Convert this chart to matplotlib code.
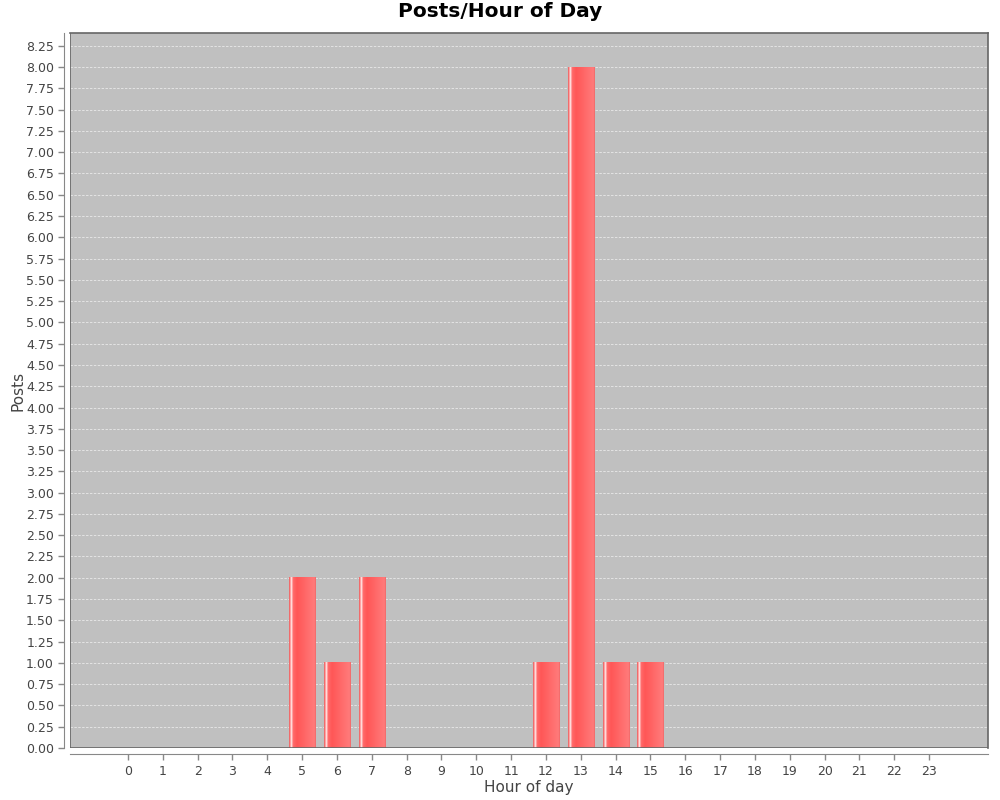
import numpy as np
import matplotlib
matplotlib.use("Agg")
import matplotlib.pyplot as plt
from matplotlib.colors import LinearSegmentedColormap

hours = list(range(24))
posts = [0, 0, 0, 0, 0, 2, 1, 2, 0, 0, 0, 0, 1, 8, 1, 1, 0, 0, 0, 0, 0, 0, 0, 0]

fig = plt.figure(figsize=(10, 8), dpi=100)
ax = fig.add_axes([0.07, 0.065, 0.918, 0.89375])
ax.set_facecolor("#C0C0C0")

bars = ax.bar(hours, posts, width=0.75, zorder=3, linewidth=0)

grad = LinearSegmentedColormap.from_list("g", [
    (0.00, (0.90, 0.36, 0.36)),
    (0.04, (1.00, 0.50, 0.50)),
    (0.09, (1.00, 0.97, 0.97)),
    (0.15, (1.00, 0.42, 0.42)),
    (0.30, (1.00, 0.34, 0.34)),
    (0.85, (1.00, 0.46, 0.46)),
    (0.95, (1.00, 0.48, 0.48)),
    (1.00, (0.93, 0.40, 0.40)),
])
img = np.linspace(0, 1, 256).reshape(1, -1)
for p in bars:
    h = p.get_height()
    if h <= 0:
        continue
    x0 = p.get_x()
    w = p.get_width()
    ax.imshow(img, cmap=grad, aspect="auto", extent=(x0, x0 + w, 0, h),
              zorder=3, interpolation="bilinear")
    p.set_visible(False)

ax.set_xlim(-1.665, 24.69)
ax.set_ylim(0, 8.4)

ax.set_xticks(hours)
ax.set_xticklabels([str(h) for h in hours])
yt = np.arange(0, 8.26, 0.25)
ax.set_yticks(yt)
ax.set_yticklabels([f"{v:.2f}" for v in yt])

ax.yaxis.grid(True, color="#E4E4E4", linestyle=(0, (2.5, 1.5)), linewidth=0.7, zorder=1)
ax.set_axisbelow(True)

for s in ["top", "right"]:
    ax.spines[s].set_color("#666666")
    ax.spines[s].set_linewidth(1.2)
ax.spines["left"].set_position(("outward", 4))
ax.spines["bottom"].set_position(("outward", 4))
ax.spines["left"].set_color("#888888")
ax.spines["bottom"].set_color("#888888")
ax.axvline(-1.665, color="#666666", linewidth=1.2, zorder=5)
ax.axhline(0, color="#666666", linewidth=1.2, zorder=5)

ax.tick_params(axis="both", colors="#888888", labelcolor="#444444",
               labelsize=9, length=4, width=1)
ax.tick_params(axis="x", pad=4)

ax.set_xlabel("Hour of day", fontsize=11, color="#444444")
ax.set_ylabel("Posts", fontsize=11, color="#444444")
ax.xaxis.set_label_coords(0.5, -0.045)
ax.yaxis.set_label_coords(-0.049, 0.5)
fig.suptitle("Posts/Hour of Day", fontsize=14.5, fontweight="bold", y=0.997)

fig.savefig("out.png", dpi=100, facecolor="white")
